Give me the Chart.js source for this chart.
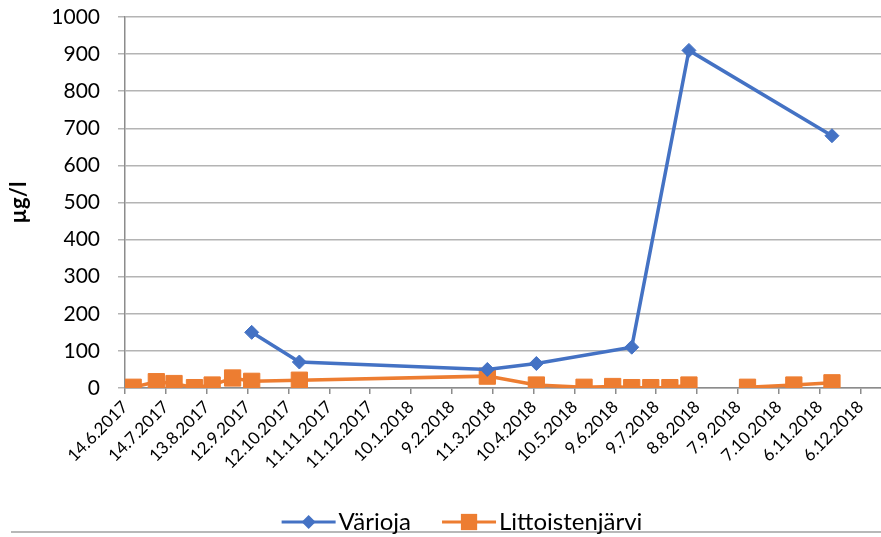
<!DOCTYPE html>
<html>
<head>
<meta charset="utf-8">
<script src="https://cdn.jsdelivr.net/npm/chart.js@4/dist/chart.umd.min.js"></script>
<style>
  body { margin: 0; background: #fff; }
  #chart { display: block; }
</style>
</head>
<body>
<canvas id="chart" width="881" height="537"></canvas>
<script>
const tickLabels = ["14.6.2017", "14.7.2017", "13.8.2017", "12.9.2017", "12.10.2017", "11.11.2017",
  "11.12.2017", "10.1.2018", "9.2.2018", "11.3.2018", "10.4.2018", "10.5.2018", "9.6.2018",
  "9.7.2018", "8.8.2018", "7.9.2018", "7.10.2018", "6.11.2018", "6.12.2018"];

const sampleDates = ["20.6.2017", "7.7.2017", "20.7.2017", "4.8.2017", "17.8.2017", "1.9.2017",
  "15.9.2017", "20.10.2017", "7.3.2018", "12.4.2018", "17.5.2018", "7.6.2018", "21.6.2018",
  "5.7.2018", "19.7.2018", "2.8.2018", "20.8.2018", "14.9.2018", "18.10.2018", "15.11.2018"];

const varioja = [null, null, null, null, null, null, 150, 70, 50, 66, null, null, 110,
  null, null, 910, null, null, null, 680];
const littoistenjarvi = [2, 17, 12, 1, 8, 27, 18, 21, 32, 8, 2, 4, 1,
  1, 1, 8, null, 2, 8, 14];

const seriesNames = ["Värioja", "Littoistenjärvi"];
const colors = ["#4472C4", "#ED7D31"];
const FONT = "Lato, 'Open Sans', sans-serif";

function toDay(s) {
  const [d, m, y] = s.split(".").map(Number);
  return Date.UTC(y, m - 1, d) / 86400000;
}
const day0 = toDay(tickLabels[0]);
const tickDays = tickLabels.map(t => toDay(t) - day0);
const xs = sampleDates.map(s => toDay(s) - day0);

function points(values) {
  return values.map((v, i) => ({ x: xs[i], y: v }));
}

// legend with line + marker, and the bottom border line, like the original
const excelLegend = {
  id: "excelLegend",
  afterDraw(chart) {
    const ctx = chart.ctx;
    ctx.save();
    ctx.strokeStyle = "#a0a0a0";
    ctx.lineWidth = 1.5;
    ctx.beginPath();
    ctx.moveTo(11, 532);
    ctx.lineTo(881, 532);
    ctx.stroke();

    ctx.font = "24px " + FONT;
    ctx.textBaseline = "middle";
    const y = 522;
    const lineLen = 54, gap = 3, itemGap = 31;
    const widths = seriesNames.map(n => ctx.measureText(n).width);
    const total = widths.reduce((s, w) => s + lineLen + gap + w, 0) + itemGap;
    let x = 462 - total / 2;
    chart.data.datasets.forEach((ds, i) => {
      ctx.strokeStyle = ds.borderColor;
      ctx.lineWidth = 3;
      ctx.beginPath();
      ctx.moveTo(x, y);
      ctx.lineTo(x + lineLen, y);
      ctx.stroke();
      ctx.fillStyle = ds.borderColor;
      ctx.beginPath();
      const cx = x + lineLen / 2;
      if (ds.pointStyle === "rect") {
        const s = ds.pointRadius * Math.SQRT1_2;
        ctx.rect(cx - s, y - s, 2 * s, 2 * s);
      } else {
        const r = ds.pointRadius;
        ctx.moveTo(cx - r, y); ctx.lineTo(cx, y - r); ctx.lineTo(cx + r, y); ctx.lineTo(cx, y + r);
        ctx.closePath();
      }
      ctx.fill();
      ctx.fillStyle = "#000";
      ctx.fillText(seriesNames[i], x + lineLen + gap, y);
      x += lineLen + gap + widths[i] + itemGap;
    });
    ctx.restore();
  }
};

new Chart(document.getElementById("chart"), {
  type: "line",
  data: {
    datasets: [
      {
        label: seriesNames[0],
        data: points(varioja),
        borderColor: colors[0],
        backgroundColor: colors[0],
        borderWidth: 3.5,
        pointStyle: "rectRot",
        pointRadius: 7,
        pointBorderWidth: 1,
        spanGaps: true,
        tension: 0
      },
      {
        label: seriesNames[1],
        data: points(littoistenjarvi),
        borderColor: colors[1],
        backgroundColor: colors[1],
        borderWidth: 3.5,
        pointStyle: "rect",
        pointRadius: 11.5,
        pointBorderWidth: 1,
        spanGaps: false,
        tension: 0
      }
    ]
  },
  options: {
    responsive: false,
    animation: false,
    layout: { autoPadding: false, padding: { top: 17, right: 0, left: 0, bottom: 0 } },
    plugins: {
      legend: { display: false },
      tooltip: { enabled: false }
    },
    scales: {
      x: {
        type: "linear",
        min: 0,
        max: 555,
        afterBuildTicks: scale => { scale.ticks = tickDays.map(v => ({ value: v })); },
        afterFit: scale => { scale.height = 149; scale.paddingLeft = 0; scale.paddingRight = 0; },
        border: { color: "#8c8c8c", width: 1.5 },
        grid: { drawOnChartArea: false, tickLength: 6, color: "#8c8c8c", lineWidth: 1.5 },
        ticks: {
          autoSkip: false,
          minRotation: 45,
          maxRotation: 45,
          padding: 3,
          color: "#000",
          font: { family: FONT, size: 17 },
          callback: (v, i) => tickLabels[i]
        }
      },
      y: {
        min: 0,
        max: 1000,
        afterFit: scale => { scale.width = 125; scale.paddingTop = 0; scale.paddingBottom = 0; },
        border: { color: "#8c8c8c", width: 1.5 },
        grid: { color: "#b4b4b4", lineWidth: 1.5, tickLength: 7 },
        ticks: {
          stepSize: 100,
          padding: 18,
          color: "#000",
          font: { family: FONT, size: 21 },
          callback: v => String(v)
        },
        title: {
          display: true,
          text: "µg/l",
          color: "#000",
          padding: { top: 6, bottom: 0 },
          font: { family: FONT, size: 22, weight: "bold" }
        }
      }
    }
  },
  plugins: [excelLegend]
});
</script>
</body>
</html>
